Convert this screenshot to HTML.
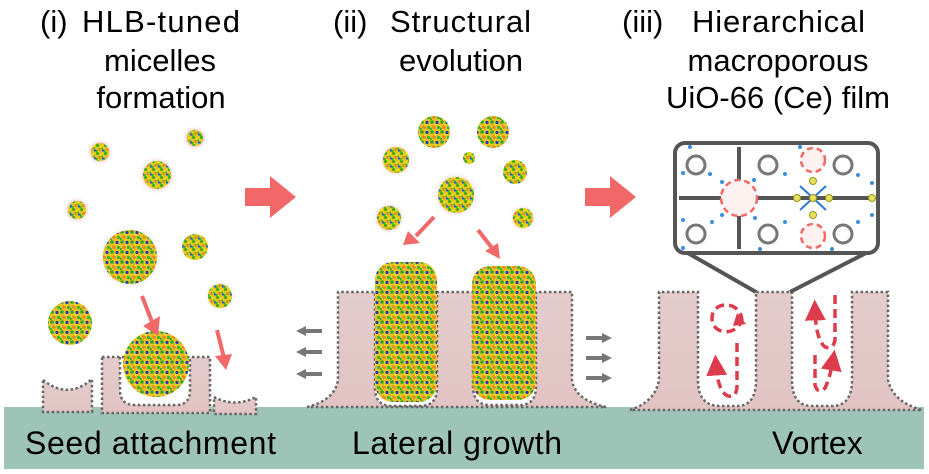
<!DOCTYPE html>
<html><head><meta charset="utf-8"><style>
html,body{margin:0;padding:0;background:#fff;}
svg{display:block;}
text{font-family:"Liberation Sans",Arial,sans-serif;fill:#000;}
</style></head><body>
<svg width="929" height="474" viewBox="0 0 929 474" xmlns="http://www.w3.org/2000/svg">
<defs>
<pattern id="mic" width="8" height="8" patternUnits="userSpaceOnUse">
<rect width="8" height="8" fill="#e0c820"/>
<circle cx="1.5" cy="1.5" r="1.5" fill="#2eaa1e"/>
<circle cx="5.5" cy="2" r="1.3" fill="#f0d81a"/>
<circle cx="3.5" cy="5.5" r="1.4" fill="#e08a1a"/>
<circle cx="7" cy="6.5" r="1.2" fill="#2a60c0"/>
<circle cx="0.5" cy="7" r="1.2" fill="#34b828"/>
<circle cx="6" cy="4.5" r="1" fill="#3dbb2a"/>
</pattern>
<pattern id="mic2" width="10" height="10" patternUnits="userSpaceOnUse">
<rect width="10" height="10" fill="#e8c22a"/>
<circle cx="2" cy="2" r="1.8" fill="#2eaa1e"/>
<circle cx="7" cy="2.5" r="1.6" fill="#1e3fb0"/>
<circle cx="4" cy="7" r="1.8" fill="#e8881c"/>
<circle cx="8.5" cy="7.5" r="1.6" fill="#36b828"/>
<circle cx="5.5" cy="5" r="1.2" fill="#f4e020"/>
<circle cx="0.5" cy="9" r="1.3" fill="#2eaa1e"/>
</pattern>
<radialGradient id="halo"><stop offset="0.6" stop-color="#f2c8c8"/><stop offset="1" stop-color="#fff" stop-opacity="0"/></radialGradient>
<linearGradient id="film" x1="0" y1="0" x2="0" y2="1"><stop offset="0" stop-color="#e4cccc"/><stop offset="1" stop-color="#e2c3c3"/></linearGradient>
<marker id="ah" markerWidth="6" markerHeight="6" refX="3" refY="3" orient="auto"><path d="M0,0 L6,3 L0,6 z" fill="#dd3c4c"/></marker>
</defs>

<!-- substrate -->
<rect x="4" y="407" width="920" height="62" fill="#9ec4b7"/>

<!-- titles -->
<g font-size="31">
<text x="40" y="32">(i)</text><text x="82" y="32" textLength="158">HLB-tuned</text>
<text x="160" y="71" text-anchor="middle">micelles</text>
<text x="161" y="108" text-anchor="middle">formation</text>
<text x="333" y="32">(ii)</text><text x="390" y="32" textLength="141">Structural</text>
<text x="461" y="71" text-anchor="middle">evolution</text>
<text x="622" y="32">(iii)</text><text x="692" y="32" textLength="173">Hierarchical</text>
<text x="778" y="71" text-anchor="middle">macroporous</text>
<text x="778" y="108" text-anchor="middle">UiO-66 (Ce) film</text>
</g>
<g font-size="32">
<text x="25" y="454" textLength="251">Seed attachment</text>
<text x="352" y="454" textLength="210">Lateral growth</text>
<text x="772" y="454">Vortex</text>
</g>

<!-- big arrows -->
<path d="M245,188 H270 V176 L296,197 L270,218 V206 H245 Z" fill="#f26868"/>
<path d="M585,188 H610 V176 L636,197 L610,218 V206 H585 Z" fill="#f26868"/>

<!-- left panel film -->
<g fill="url(#film)" stroke="#666" stroke-width="2.5" stroke-dasharray="2.5,2.5">
<path d="M43,380 Q68,400 92,379 V412 H43 Z"/>
<path d="M102,357 H210 V413 H102 Z M120,357 V390 Q120,405 135,405 H176 Q190,405 190,390 V357"/>
<path d="M214,397 Q235,408 256,397 V414 H214 Z"/>
</g>
<!-- left micelles -->
<g>
<circle cx="100" cy="152" r="14" fill="url(#halo)"/><circle cx="100" cy="152" r="9" fill="url(#mic)"/>
<circle cx="195" cy="138" r="13" fill="url(#halo)"/><circle cx="195" cy="138" r="8" fill="url(#mic)"/>
<circle cx="157" cy="175" r="20" fill="url(#halo)"/><circle cx="157" cy="175" r="14" fill="url(#mic)"/>
<circle cx="77" cy="210" r="14" fill="url(#halo)"/><circle cx="77" cy="210" r="9" fill="url(#mic)"/>
<circle cx="130" cy="257" r="34" fill="url(#halo)"/><circle cx="130" cy="257" r="27" fill="url(#mic2)"/>
<circle cx="195" cy="247" r="13" fill="url(#mic)"/>
<circle cx="220" cy="296" r="16" fill="url(#halo)"/><circle cx="220" cy="296" r="12" fill="url(#mic)"/>
<circle cx="70" cy="323" r="22" fill="url(#mic2)"/>
<circle cx="156" cy="364" r="33" fill="url(#mic2)"/>
</g>
<path d="M142,296 L152,322" stroke="#f26868" stroke-width="4"/><path d="M143,326 L160,316 L158,336 Z" fill="#f26868"/>
<path d="M217,330 L224,358" stroke="#f26868" stroke-width="4"/><path d="M215,356 L232,354 L226,370 Z" fill="#f26868"/>

<!-- middle film -->
<path fill="url(#film)" stroke="#666" stroke-width="2.5" stroke-dasharray="2.5,2.5" d="M307,407 Q335,400 338,380 V292 H375 V388 Q375,406 392,406 H420 Q437,406 437,388 V292 H473 V386 Q473,405 490,405 H520 Q536,405 536,386 V292 H572 V380 Q575,400 606,407 Z"/>
<rect x="375" y="262" width="62" height="140" rx="18" fill="url(#mic2)"/>
<rect x="472" y="266" width="64" height="134" rx="18" fill="url(#mic2)"/>
<g>
<circle cx="434" cy="132" r="16" fill="url(#mic2)"/>
<circle cx="493" cy="132" r="16" fill="url(#mic2)"/>
<circle cx="396" cy="160" r="18" fill="url(#halo)"/><circle cx="396" cy="160" r="13" fill="url(#mic)"/>
<circle cx="469" cy="158" r="6" fill="url(#mic)"/>
<circle cx="515" cy="172" r="12" fill="url(#mic)"/>
<circle cx="456" cy="195" r="24" fill="url(#halo)"/><circle cx="456" cy="195" r="18" fill="url(#mic)"/>
<circle cx="389" cy="218" r="17" fill="url(#halo)"/><circle cx="389" cy="218" r="12" fill="url(#mic)"/>
<circle cx="523" cy="218" r="14" fill="url(#halo)"/><circle cx="523" cy="218" r="10" fill="url(#mic)"/>
</g>
<path d="M434,217 L416,236" stroke="#f26868" stroke-width="4"/><path d="M408,231 L420,243 L403,245 Z" fill="#f26868"/>
<path d="M478,230 L492,248" stroke="#f26868" stroke-width="4"/><path d="M485,251 L498,243 L500,259 Z" fill="#f26868"/>
<g fill="#777">
<path d="M296,331 L306,326 V329 H322 V333 H306 V336 Z"/>
<path d="M296,352 L306,347 V350 H322 V354 H306 V357 Z"/>
<path d="M296,374 L306,369 V372 H322 V376 H306 V379 Z"/>
<path d="M612,338 L602,333 V336 H586 V340 H602 V343 Z"/>
<path d="M612,358 L602,353 V356 H586 V360 H602 V363 Z"/>
<path d="M612,378 L602,373 V376 H586 V380 H602 V383 Z"/>
</g>

<!-- right film -->
<path fill="url(#film)" stroke="#666" stroke-width="2.5" stroke-dasharray="2.5,2.5" d="M630,410 Q655,402 659,380 V292 H698 V380 Q698,406 720,406 H737 Q756,406 756,380 V292 H792 V380 Q792,406 812,406 H832 Q852,406 852,380 V292 H888 V380 Q893,402 922,410 Z"/>
<g stroke="#dd3c4c" stroke-width="3.5" fill="none" stroke-dasharray="9,5">
<path d="M742,322 C742,300 712,300 712,318 C712,335 735,336 741,322" />
<path d="M737,343 V385 Q737,398 728,396 Q718,392 716,365" marker-end="url(#ah)"/>
<path d="M835,295 V340 Q833,350 825,347 Q816,340 815,310" marker-end="url(#ah)"/>
<path d="M815,355 V385 Q818,395 825,388 Q830,378 833,360" marker-end="url(#ah)"/>
</g>
<path d="M737,313 L746,324 L733,326 Z" fill="#dd3c4c"/>

<!-- inset -->
<path d="M686,252 L756,292 M868,252 L790,292" stroke="#555" stroke-width="4"/>
<rect x="675" y="143" width="203" height="110" rx="10" fill="#fff" stroke="#555" stroke-width="4"/>
<g stroke="#555" stroke-width="4">
<line x1="739" y1="147" x2="739" y2="249"/>
<line x1="679" y1="198" x2="874" y2="198"/>
</g>
<g fill="none" stroke="#777" stroke-width="3">
<circle cx="696" cy="165" r="9"/><circle cx="768" cy="165" r="9"/><circle cx="843" cy="165" r="9"/>
<circle cx="696" cy="234" r="9"/><circle cx="768" cy="234" r="9"/><circle cx="843" cy="234" r="9"/>
</g>
<g fill="#3a8ee0">
<circle cx="683" cy="173" r="2"/><circle cx="710" cy="174" r="2"/><circle cx="722" cy="182" r="2"/><circle cx="754" cy="180" r="2"/><circle cx="785" cy="174" r="2"/><circle cx="858" cy="175" r="2"/><circle cx="872" cy="183" r="2"/>
<circle cx="683" cy="220" r="2"/><circle cx="712" cy="222" r="2"/><circle cx="722" cy="215" r="2"/><circle cx="755" cy="218" r="2"/><circle cx="785" cy="222" r="2"/><circle cx="858" cy="222" r="2"/><circle cx="872" cy="215" r="2"/>
<circle cx="683" cy="248" r="2"/><circle cx="760" cy="249" r="2"/><circle cx="832" cy="249" r="2"/><circle cx="690" cy="147" r="2"/><circle cx="800" cy="147" r="2"/>
</g>
<g stroke="#2d78d0" stroke-width="2"><line x1="800" y1="186" x2="826" y2="210"/><line x1="826" y1="186" x2="800" y2="210"/></g>
<g fill="#e6e05a" stroke="#9a9620"><circle cx="813" cy="198" r="3.5"/><circle cx="797" cy="198" r="3.5"/><circle cx="829" cy="198" r="3.5"/><circle cx="813" cy="181" r="3.5"/><circle cx="813" cy="215" r="3.5"/><circle cx="872" cy="198" r="3.5"/></g>
<g fill="#fdf2f0" stroke="#f26868" stroke-width="2.5" stroke-dasharray="6,4">
<circle cx="739" cy="198" r="18"/><circle cx="813" cy="160" r="12"/><circle cx="813" cy="236" r="12"/>
</g>
</svg>
</body></html>
